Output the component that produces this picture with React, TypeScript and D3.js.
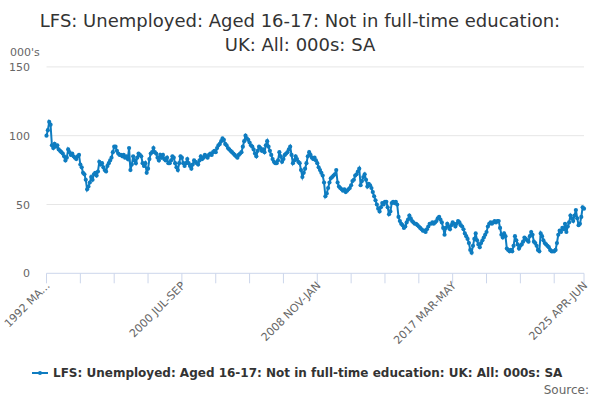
import React from "react";
import * as d3 from "d3";

const title1 = "LFS: Unemployed: Aged 16-17: Not in full-time education:";
const title2 = "UK: All: 000s: SA";
const seriesName = "LFS: Unemployed: Aged 16-17: Not in full-time education: UK: All: 000s: SA";
const yTicks = [0, 50, 100, 150];
const xTickLabels = [
  { index: 0, label: "1992 MA..." },
  { index: 100, label: "2000 JUL-SEP" },
  { index: 200, label: "2008 NOV-JAN" },
  { index: 300, label: "2017 MAR-MAY" },
  { index: 397, label: "2025 APR-JUN" },
];
const minorTickIndices = [0, 25, 50, 75, 100, 125, 150, 175, 200, 225, 250, 275, 300, 325, 350, 375, 397];

// Rolling-quarter values (000s), 1992 MAR-MAY .. 2025 APR-JUN
const values = [
  100, 104, 110, 108, 93, 91, 94, 92, 93, 90, 89, 88,
  87, 85, 82, 84, 90, 88, 86, 87, 85, 84, 83, 85,
  86, 79, 77, 73, 72, 68, 61, 63, 66, 70, 68, 72,
  73, 71, 74, 81, 79, 80, 77, 75, 74, 78, 80, 82,
  84, 88, 92, 92, 89, 87, 86, 86, 85, 86, 84, 85,
  83, 91, 75, 79, 85, 82, 80, 84, 87, 86, 85, 80,
  78, 80, 73, 76, 83, 87, 88, 91, 88, 87, 84, 82,
  86, 84, 86, 83, 82, 84, 80, 80, 82, 85, 84, 80,
  77, 75, 80, 85, 84, 80, 78, 80, 83, 80, 78, 76,
  79, 82, 81, 80, 79, 82, 85, 83, 84, 86, 85, 84,
  86, 87, 86, 88, 89, 88, 91, 93, 94, 96, 98, 97,
  94, 93, 91, 90, 89, 88, 87, 86, 85, 84, 86, 87,
  88, 92, 96, 100, 98, 97, 95, 93, 92, 90, 87, 85,
  89, 92, 91, 89, 90, 88, 93, 96, 92, 89, 86, 83,
  81, 80, 80, 82, 88, 85, 81, 83, 86, 87, 88, 90,
  92, 86, 80, 82, 85, 83, 81, 80, 75, 70, 73, 76,
  80, 85, 88, 86, 84, 83, 84, 82, 80, 77, 75, 73,
  71, 66, 56, 58, 62, 66, 69, 70, 71, 72, 75, 66,
  63, 62, 61, 60, 61, 59, 60, 61, 62, 64, 67, 68,
  71, 72, 74, 76, 64, 67, 70, 72, 68, 63, 65, 64,
  62, 59, 56, 53, 50, 47, 45, 48, 51, 50, 52, 52,
  48, 43, 45, 51, 52, 51, 52, 50, 41, 38, 36, 35,
  33, 34, 37, 39, 42, 40, 38, 37, 36, 36, 35, 34,
  33, 32, 31, 31, 30, 32, 34, 36, 36, 37, 36, 37,
  38, 40, 41, 39, 37, 33, 28, 33, 36, 34, 32, 35,
  37, 36, 34, 36, 38, 37, 35, 34, 32, 29, 27, 25,
  22, 17, 15, 20, 25, 29, 24, 21, 19, 22, 24, 26,
  28, 30, 34, 36, 37, 36, 37, 38, 37, 38, 38, 33,
  28, 26, 29, 27, 18, 17, 16, 17, 16, 20, 27, 24,
  21, 18, 20, 21, 23, 26, 25, 24, 23, 27, 30, 28,
  23, 22, 20, 17, 16, 29, 27, 24, 22, 21, 20, 19,
  17, 16, 16, 16, 17, 22, 28, 31, 30, 33, 32, 36,
  30, 34, 37, 42, 40, 38, 42, 46, 40, 35, 36, 41,
  48, 47,
];

const FONT = "'DejaVu Sans', sans-serif";
const LINE = "#0e7cc0";

export default function App() {
  const W = 600, H = 400;
  const left = 46.5, right = 584, top = 66.9, bottom = 273.3;
  const x = d3.scaleLinear().domain([0, values.length - 1]).range([left, right]);
  const y = d3.scaleLinear().domain([0, 150]).range([bottom, top]);
  const line = d3.line<number>().x((_, i) => x(i)).y((d) => y(d));

  return (
    <svg width={W} height={H} style={{ position: "absolute", left: 0, top: 0, fontFamily: FONT }}>
      <rect width={W} height={H} fill="#fff" />
      <text x={W / 2} y={27} textAnchor="middle" fontSize={18} fill="#333">{title1}</text>
      <text x={W / 2} y={51} textAnchor="middle" fontSize={18} fill="#333">{title2}</text>
      <text x={10} y={56} fontSize={11} fill="#666">000's</text>
      {yTicks.map((t) => (
        <g key={t}>
          {t !== 0 && <line x1={left} x2={right} y1={y(t)} y2={y(t)} stroke="#e6e6e6" />}
          <text x={30} y={y(t) + 4} textAnchor="end" fontSize={11} fill="#666">{t}</text>
        </g>
      ))}
      <line x1={left} x2={right} y1={bottom} y2={bottom} stroke="#ccd6eb" />
      {minorTickIndices.map((i) => (
        <line key={i} x1={x(i)} x2={x(i)} y1={bottom} y2={bottom + 10} stroke="#ccd6eb" />
      ))}
      {xTickLabels.map((t) => (
        <text
          key={t.index}
          transform={`translate(${x(t.index) + 4},${bottom + 13}) rotate(-45)`}
          textAnchor="end"
          fontSize={11}
          fill="#666"
        >
          {t.label}
        </text>
      ))}
      <path d={line(values) || ""} fill="none" stroke={LINE} strokeWidth={2} />
      {values.map((v, i) => (
        <circle key={i} cx={x(i)} cy={y(v)} r={2.1} fill={LINE} />
      ))}
      <line x1={32} x2={48} y1={373} y2={373} stroke={LINE} strokeWidth={2} />
      <circle cx={40} cy={373} r={2} fill={LINE} />
      <text x={53} y={377} fontSize={12} fontWeight="bold" fill="#333">{seriesName}</text>
      <text x={589} y={394} textAnchor="end" fontSize={12} fill="#666">Source:</text>
    </svg>
  );
}
